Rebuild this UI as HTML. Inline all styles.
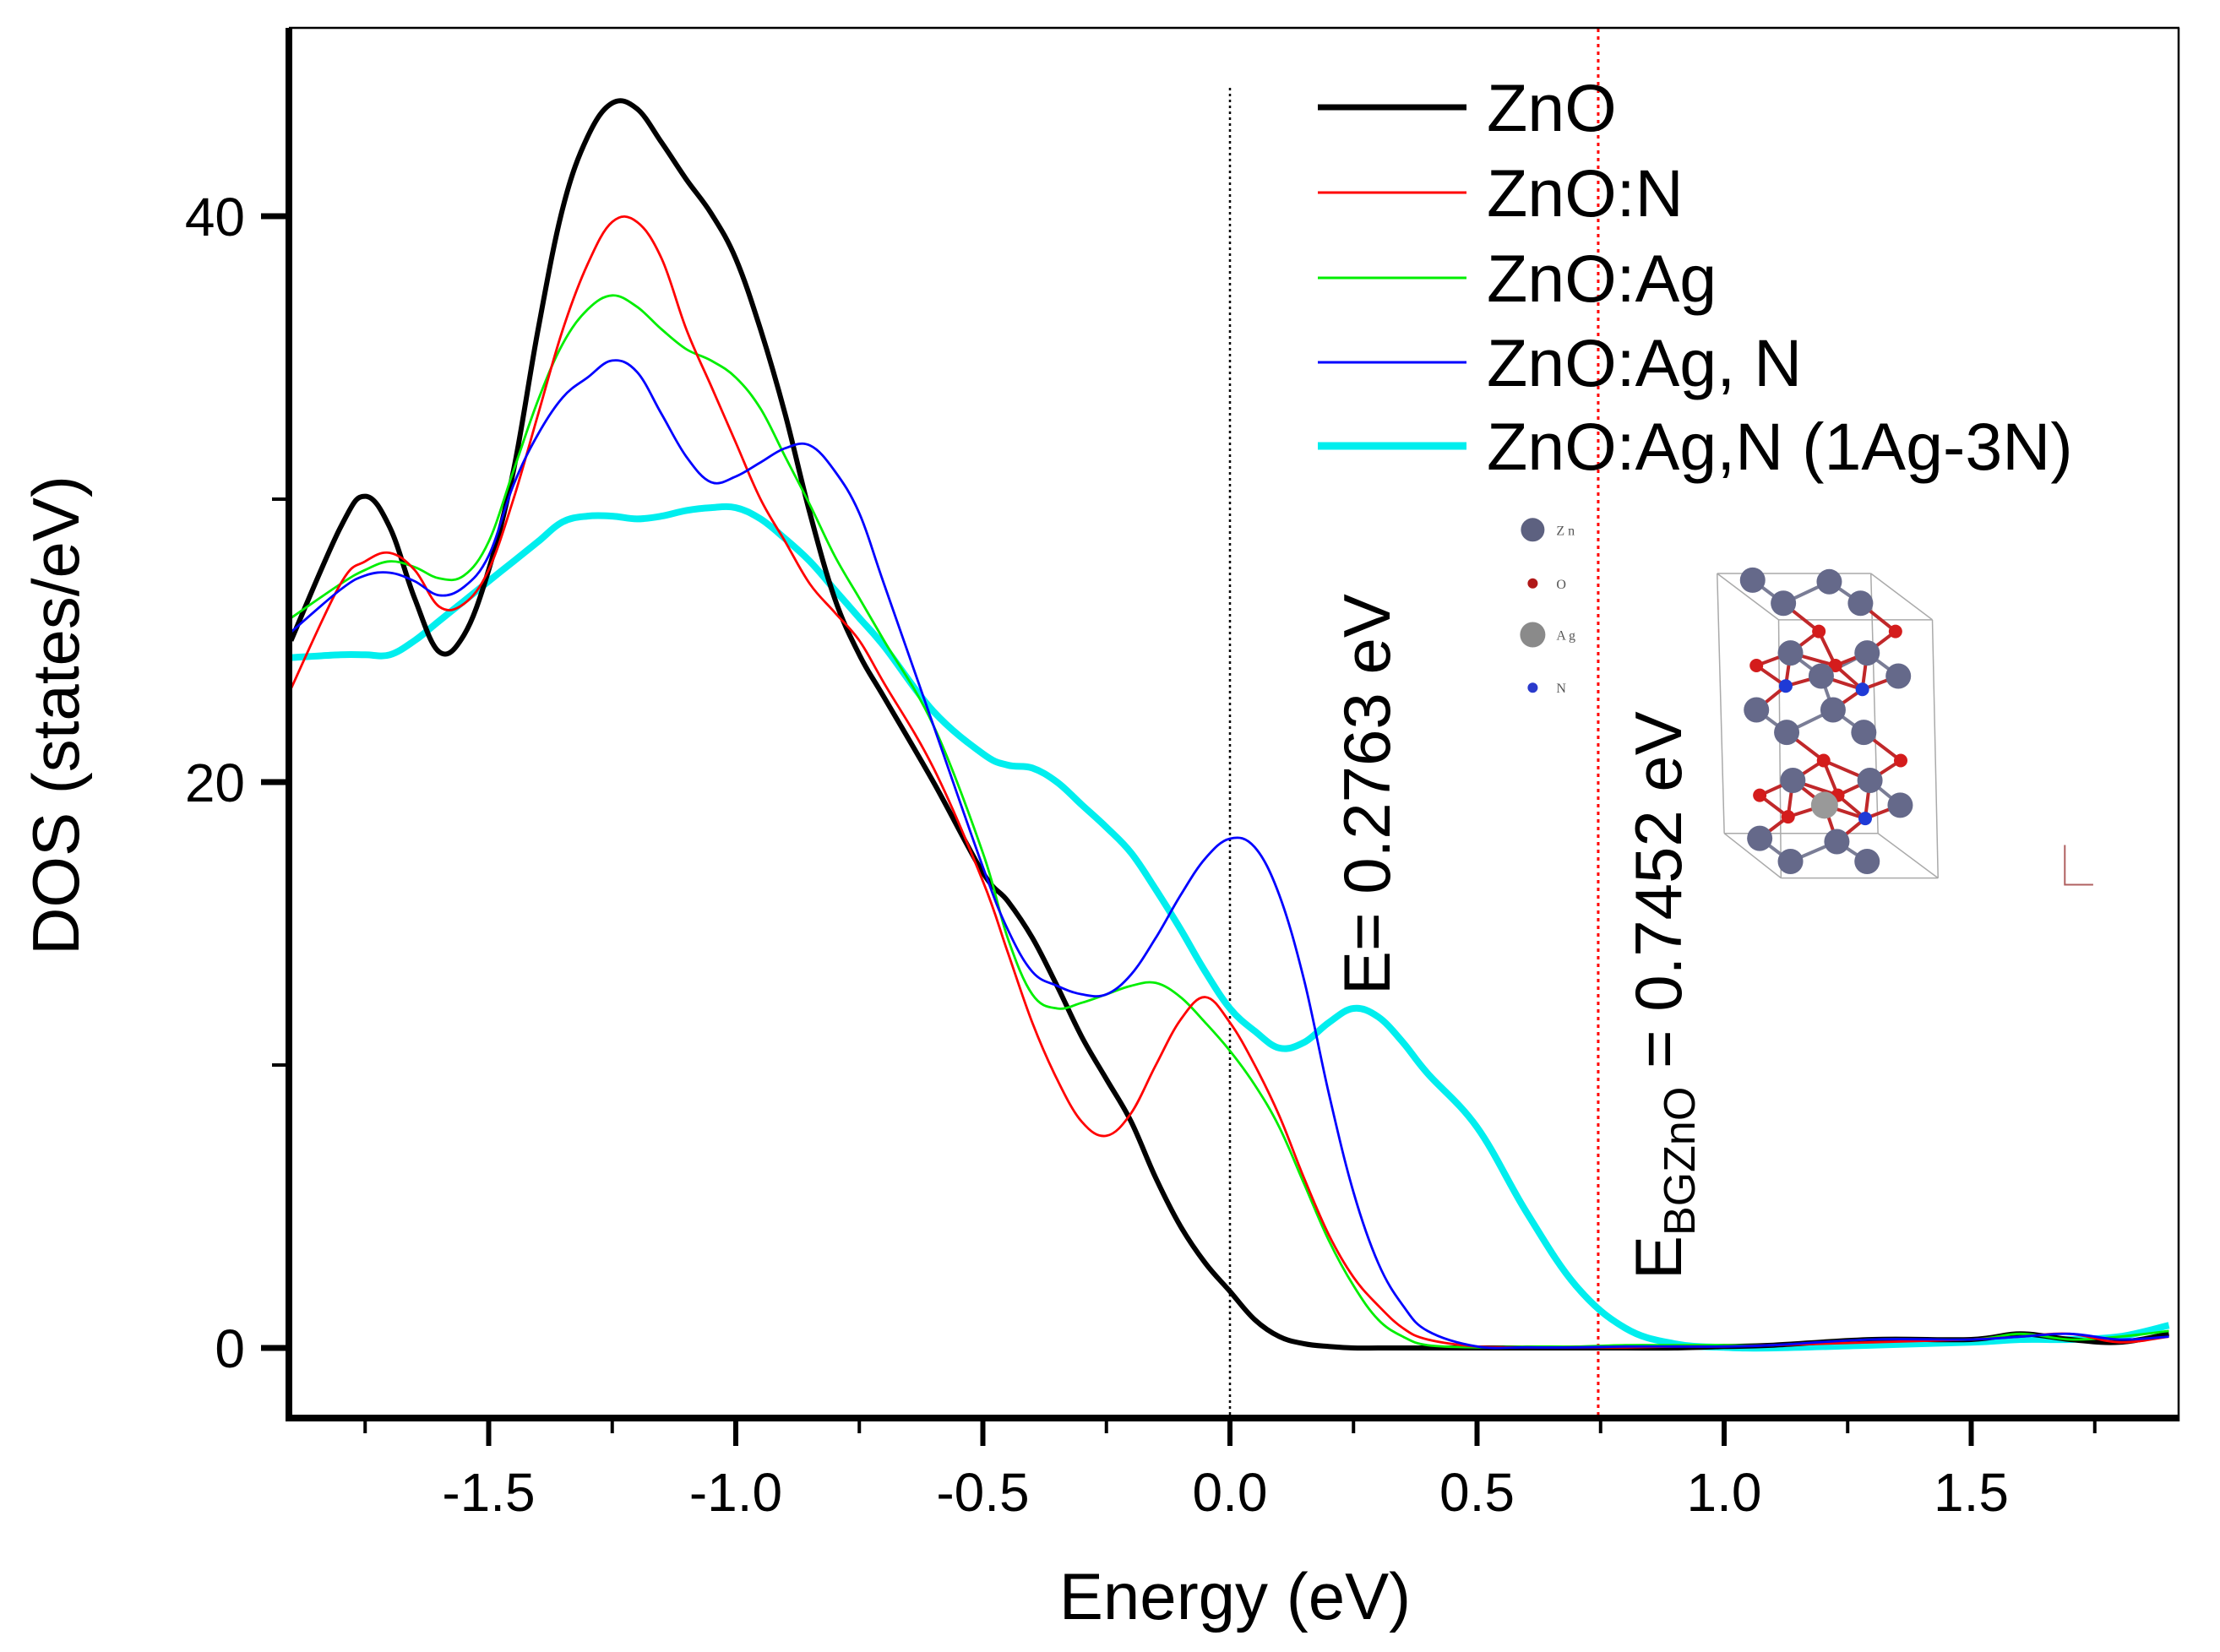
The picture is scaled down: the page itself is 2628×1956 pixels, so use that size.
<!DOCTYPE html>
<html><head><meta charset="utf-8"><style>
html,body{margin:0;padding:0;background:#fff;}
svg{display:block;font-family:"Liberation Sans",Arial,sans-serif;}
</style></head><body>
<svg id="chart" width="2628" height="1956" viewBox="0 0 2628 1956" xmlns="http://www.w3.org/2000/svg">
<defs><clipPath id="plotclip"><rect x="344" y="34" width="2235" height="1643"/></clipPath></defs>
<g id="marks" clip-path="url(#plotclip)"></g>
<g id="axes"></g>
<g id="inset"></g>
</svg>
<script>
const energies=[-1.9,-1.8,-1.75,-1.7,-1.65,-1.6,-1.55,-1.5,-1.45,-1.4,-1.35,-1.3,-1.25,-1.2,-1.15,-1.1,-1.05,-1.0,-0.95,-0.9,-0.85,-0.8,-0.75,-0.7,-0.6,-0.5,-0.45,-0.4,-0.35,-0.3,-0.25,-0.2,-0.15,-0.1,-0.05,0,0.05,0.1,0.15,0.2,0.25,0.3,0.35,0.4,0.5,0.6,0.7,0.8,0.9,1.0,1.1,1.3,1.5,1.6,1.7,1.8,1.9];
const dosZnO=[25,29,30.1,29,26.5,24.6,25.2,27.5,31,36,40.3,42.8,44,43.8,42.6,41.3,40.1,38.5,36,33,29.5,26.5,24.5,23,20,16.8,15.8,14.5,12.8,11,9.5,8,6,4.3,3.0,2.0,1.0,0.4,0.15,0.05,0,0,0,0,0,0,0,0,0,0.05,0.1,0.3,0.3,0.5,0.3,0.2,0.5];
const dosZnON=[23.3,27,27.8,28.1,27.5,26.2,26.3,27.5,30,33,36,38.3,39.8,39.8,38.5,36,34,32,30,28.5,27,26,25,23.5,20.5,16.5,14,11.5,9.5,8,7.5,8.3,10,11.6,12.4,11.5,10,8.2,6,4,2.5,1.5,0.7,0.3,0.05,0.02,0.02,0.02,0.05,0.05,0.1,0.2,0.3,0.4,0.5,0.2,0.4];
const dosZnOAg=[25.8,27,27.5,27.8,27.6,27.2,27.3,28.5,31,33.5,35.5,36.7,37.2,36.8,36,35.3,34.9,34.3,33.2,31.5,29.8,28,26.5,25,22,17.5,14.5,12.5,12,12.2,12.5,12.8,12.9,12.4,11.5,10.5,9.3,7.8,5.8,3.8,2.2,1.0,0.4,0.1,0.02,0.05,0.05,0.1,0.1,0.1,0.1,0.3,0.3,0.5,0.3,0.4,0.6];
const dosZnOAgN=[25.3,26.8,27.3,27.4,27.1,26.6,26.9,28,30.5,32.3,33.6,34.3,34.9,34.5,33,31.5,30.6,30.8,31.3,31.8,31.9,31,29.5,27,22,17,14.8,13.3,12.8,12.5,12.5,13.2,14.5,16,17.3,18,17.7,16,13,9,5.5,3,1.5,0.6,0.05,0.02,0.02,0.05,0.05,0.05,0.1,0.3,0.3,0.4,0.5,0.3,0.4];
const dosZnOAg3N=[24.4,24.5,24.5,24.5,25,25.7,26.4,27.1,27.8,28.5,29.2,29.4,29.4,29.3,29.4,29.6,29.7,29.7,29.3,28.6,27.8,26.8,25.8,24.8,22.5,21,20.6,20.5,20,19.2,18.4,17.5,16.2,14.8,13.3,12,11.2,10.6,10.8,11.5,12,11.7,10.8,9.7,7.8,4.8,2.2,0.7,0.15,0.02,0,0.1,0.2,0.3,0.3,0.4,0.8];
const seriesNames=["ZnO","ZnO:N","ZnO:Ag","ZnO:Ag, N","ZnO:Ag,N (1Ag-3N)"];
const xTicks=[-1.5,-1.0,-0.5,0.0,0.5,1.0,1.5];
const xTickLabels=["-1.5","-1.0","-0.5","0.0","0.5","1.0","1.5"];
const yTicks=[0,20,40];
const yTickLabels=["0","20","40"];
const markerEnergies=[0,0.7452];

const NS="http://www.w3.org/2000/svg";
const X0=1456, XS=585, Y0=1596, YS=33.5;
function xs(e){return X0+e*XS;}
function ys(v){return Y0-v*YS;}
function mk(tag,attrs,parent){const el=document.createElementNS(NS,tag);for(const k in attrs)el.setAttribute(k,attrs[k]);parent.appendChild(el);return el;}
function smoothPath(px,py){
  let d="M"+px[0].toFixed(1)+","+py[0].toFixed(1);
  for(let i=0;i<px.length-1;i++){
    const i0=Math.max(0,i-1),i3=Math.min(px.length-1,i+2);
    const t=0.18;
    const c1x=px[i]+(px[i+1]-px[i0])*t, c1y=py[i]+(py[i+1]-py[i0])*t;
    const c2x=px[i+1]-(px[i3]-px[i])*t, c2y=py[i+1]-(py[i3]-py[i])*t;
    d+=" C"+c1x.toFixed(1)+","+c1y.toFixed(1)+" "+c2x.toFixed(1)+","+c2y.toFixed(1)+" "+px[i+1].toFixed(1)+","+py[i+1].toFixed(1);
  }
  return d;
}
const marks=document.getElementById('marks');
const axes=document.getElementById('axes');
const inset=document.getElementById('inset');

const vl0=mk('line',{x1:xs(markerEnergies[0]),x2:xs(markerEnergies[0]),y1:104,y2:1677,stroke:'#000','stroke-width':2.5,'stroke-dasharray':'3,4'},marks);


const vl1=mk('line',{x1:xs(markerEnergies[1]),x2:xs(markerEnergies[1]),y1:34,y2:1677,stroke:'#ff0000','stroke-width':3,'stroke-dasharray':'4,5'},marks);



const seriesData=[dosZnO,dosZnON,dosZnOAg,dosZnOAgN,dosZnOAg3N];
const colors=['#000000','#ff0000','#00ee00','#0000ff','#00eeee'];
const widths=[6,2.8,2.8,2.8,8];
const order=[4,0,2,1,3];
const px=energies.map(xs);
order.forEach(s=>{
  const p=mk('path',{d:smoothPath(px,seriesData[s].map(ys)),fill:'none',stroke:colors[s],'stroke-width':widths[s],'stroke-linejoin':'round'},marks);
  
  
});

mk('line',{x1:342,x2:342,y1:33,y2:1683,stroke:'#000','stroke-width':8},axes);
mk('line',{x1:338,x2:2579,y1:1679,y2:1679,stroke:'#000','stroke-width':8},axes);
mk('line',{x1:342,x2:2580,y1:33,y2:33,stroke:'#000','stroke-width':2.5},axes);
mk('line',{x1:2579,x2:2579,y1:33,y2:1683,stroke:'#000','stroke-width':2.5},axes);
for(let e=-1.75;e<=1.76;e+=0.25){
  const major=Math.abs(Math.round(e*2)-e*2)<1e-6;
  mk('line',{x1:xs(e),x2:xs(e),y1:1683,y2:major?1712:1697,stroke:'#000','stroke-width':major?6:4},axes);
}
xTicks.forEach((t,i)=>{
  const tx=mk('text',{x:xs(t),y:1789,'font-size':64,'text-anchor':'middle',fill:'#000'},axes);
  tx.textContent=xTickLabels[i];
  
  
});
for(let v=0;v<=40;v+=10){
  const major=v%20===0;
  mk('line',{x1:major?309:322,x2:342,y1:ys(v),y2:ys(v),stroke:'#000','stroke-width':major?7:4},axes);
}
yTicks.forEach((t,i)=>{
  const tx=mk('text',{x:290,y:ys(t)+23,'font-size':64,'text-anchor':'end',fill:'#000'},axes);
  tx.textContent=yTickLabels[i];
  
  
});
const xt=mk('text',{x:1462,y:1917,'font-size':78,'text-anchor':'middle',fill:'#000'},axes);
xt.textContent='Energy (eV)';


const yt=mk('text',{x:0,y:0,'font-size':78,'text-anchor':'middle',fill:'#000',transform:'translate(93,847) rotate(-90)'},axes);
yt.textContent='DOS (states/eV)';



const legY=[127,228,329,429,528];
[0,1,2,3,4].forEach(s=>{
  const g=mk('g',{},axes);
  
  
  mk('line',{x1:1560,x2:1736,y1:legY[s],y2:legY[s],stroke:colors[s],'stroke-width':s===4?9:(s===0?7:3)},g);
  const t=mk('text',{x:1760,y:legY[s]+28,'font-size':79,fill:'#000'},g);
  t.textContent=seriesNames[s];
});

const a1=mk('text',{x:0,y:0,'font-size':78,fill:'#000',transform:'translate(1645,1178) rotate(-90)'},axes);
a1.textContent='E= 0.2763 eV';


const a2=mk('text',{x:0,y:0,'font-size':78,fill:'#000',transform:'translate(1990,1515) rotate(-90)'},axes);
a2.innerHTML='E<tspan font-size="52" dy="16">BGZnO</tspan><tspan dy="-16"> = 0.7452 eV</tspan>';



function ic(zx,zy){return [1750+zx/1.786,679+(zy-350)*0.392];}
const legendAtoms=[[115,218,'#5d6180',14,'Z n'],[115,380,'#b01818',6,'O'],[115,535,'#8a8a8a',15,'A g'],[115,695,'#2a3acc',6,'N']];
legendAtoms.forEach(a=>{const p=ic(a[0],a[1]);mk('circle',{cx:p[0],cy:p[1],r:a[3],fill:a[2]},inset);const t=mk('text',{x:p[0]+28,y:p[1]+6,'font-size':16,'font-family':'Liberation Serif,serif',fill:'#555'},inset);t.textContent=a[4];});
const box=[[505,350,830,350],[505,350,520,1135],[830,350,845,1135],[520,1135,845,1135],[505,350,635,490],[830,350,960,490],[635,490,960,490],[960,490,972,1270],[635,490,640,1270],[640,1270,972,1270],[520,1135,640,1270],[845,1135,972,1270]];
box.forEach(b=>{const p=ic(b[0],b[1]),q=ic(b[2],b[3]);mk('line',{x1:p[0],y1:p[1],x2:q[0],y2:q[1],stroke:'#aaa','stroke-width':1.5},inset);});
const zn=[[580,370],[742,375],[645,440],[808,440],[660,590],[822,590],[725,660],[888,660],[588,762],[750,762],[652,830],[815,830],[665,975],[828,975],[892,1050],[595,1150],[758,1160],[660,1220],[822,1220]];
const ox=[[720,525],[882,525],[588,628],[755,628],[730,915],[893,915],[595,1020],[655,1085],[760,1020]];
const ni=[[650,690],[812,700],[818,1090]];
const all=zn.concat(ox,ni,[[732,1050]]);
for(let i=0;i<all.length;i++)for(let j=i+1;j<all.length;j++){const dx=all[i][0]-all[j][0],dy=all[i][1]-all[j][1];const d=Math.hypot(dx,dy);if(d<120){const p=ic(all[i][0],all[i][1]),q=ic(all[j][0],all[j][1]);mk('line',{x1:p[0],y1:p[1],x2:q[0],y2:q[1],stroke:i<zn.length&&j<zn.length?'#7a7d96':'#c0282a','stroke-width':4},inset);}}
ox.forEach(a=>{const p=ic(a[0],a[1]);mk('circle',{cx:p[0],cy:p[1],r:8,fill:'#d41c1c'},inset);});
ni.forEach(a=>{const p=ic(a[0],a[1]);mk('circle',{cx:p[0],cy:p[1],r:8,fill:'#1f3ad6'},inset);});
zn.forEach(a=>{const p=ic(a[0],a[1]);mk('circle',{cx:p[0],cy:p[1],r:15,fill:'#65698a'},inset);});
(function(){const p=ic(732,1050);mk('circle',{cx:p[0],cy:p[1],r:16,fill:'#999'},inset);})();
(function(){const p=ic(1240,1170),q=ic(1240,1290),r=ic(1300,1290);mk('polyline',{points:p[0]+','+p[1]+' '+q[0]+','+q[1]+' '+r[0]+','+r[1],fill:'none',stroke:'#b06060','stroke-width':2},inset);})();
</script>
</body></html>
